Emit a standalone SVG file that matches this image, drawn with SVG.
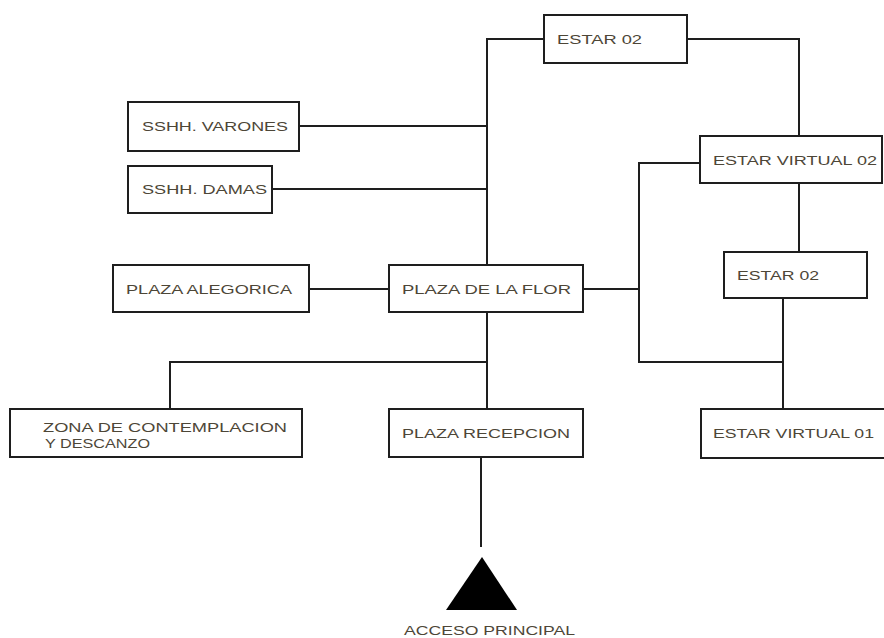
<svg xmlns="http://www.w3.org/2000/svg" width="884" height="638" viewBox="0 0 884 638">
<style>
.box{fill:#fff;stroke:#1e1e1e;stroke-width:2}
.lbl{font-family:"Liberation Sans",Arial,sans-serif;font-size:13px;fill:#4d4637}
.con{fill:none;stroke:#1e1e1e;stroke-width:2}
</style>
<rect width="884" height="638" fill="#fff"/>
<g id="connectors">
<polyline class="con" points="544,39 487,39 487,265"/>
<line class="con" x1="299" y1="126" x2="487" y2="126"/>
<line class="con" x1="272" y1="189" x2="487" y2="189"/>
<polyline class="con" points="687,39 799,39 799,136"/>
<line class="con" x1="309" y1="289" x2="389" y2="289"/>
<polyline class="con" points="700,163 639,163 639,362 783,362"/>
<line class="con" x1="583" y1="289" x2="639" y2="289"/>
<line class="con" x1="799" y1="183" x2="799" y2="252"/>
<line class="con" x1="783" y1="298" x2="783" y2="409"/>
<line class="con" x1="487" y1="312" x2="487" y2="409"/>
<polyline class="con" points="487,362 170,362 170,409"/>
<line class="con" x1="481" y1="457" x2="481" y2="547"/>
</g>
<g id="estar02-top"><rect class="box" x="544" y="15" width="143" height="48"/><text class="lbl" x="557" y="44" textLength="85" lengthAdjust="spacingAndGlyphs">ESTAR 02</text></g>
<g id="estar-virtual-02"><rect class="box" x="700" y="136" width="182" height="47"/><text class="lbl" x="713" y="165" textLength="164" lengthAdjust="spacingAndGlyphs">ESTAR VIRTUAL 02</text></g>
<g id="sshh-varones"><rect class="box" x="128" y="102" width="171" height="49"/><text class="lbl" x="142" y="131" textLength="146" lengthAdjust="spacingAndGlyphs">SSHH. VARONES</text></g>
<g id="sshh-damas"><rect class="box" x="128" y="166" width="144" height="47"/><text class="lbl" x="142" y="194" textLength="125" lengthAdjust="spacingAndGlyphs">SSHH. DAMAS</text></g>
<g id="plaza-alegorica"><rect class="box" x="113" y="265" width="196" height="47"/><text class="lbl" x="126" y="294" textLength="166" lengthAdjust="spacingAndGlyphs">PLAZA ALEGORICA</text></g>
<g id="plaza-de-la-flor"><rect class="box" x="389" y="265" width="194" height="47"/><text class="lbl" x="402" y="294" textLength="169" lengthAdjust="spacingAndGlyphs">PLAZA DE LA FLOR</text></g>
<g id="estar02-right"><rect class="box" x="724" y="252" width="143" height="46"/><text class="lbl" x="737" y="280" textLength="82" lengthAdjust="spacingAndGlyphs">ESTAR 02</text></g>
<g id="zona-contemplacion"><rect class="box" x="10" y="409" width="292" height="48"/><text class="lbl" x="43" y="432" textLength="244" lengthAdjust="spacingAndGlyphs">ZONA DE CONTEMPLACION</text><text class="lbl" x="45" y="448" textLength="105" lengthAdjust="spacingAndGlyphs">Y DESCANZO</text></g>
<g id="plaza-recepcion"><rect class="box" x="389" y="409" width="194" height="48"/><text class="lbl" x="402" y="438" textLength="168" lengthAdjust="spacingAndGlyphs">PLAZA RECEPCION</text></g>
<g id="estar-virtual-01"><rect class="box" x="701" y="409" width="200" height="49"/><text class="lbl" x="713" y="438" textLength="161" lengthAdjust="spacingAndGlyphs">ESTAR VIRTUAL 01</text></g>
<g id="acceso-principal"><polygon points="482,557 517,610 446,610" fill="#000"/><text class="lbl" x="404" y="635" textLength="171" lengthAdjust="spacingAndGlyphs">ACCESO PRINCIPAL</text></g>
</svg>
